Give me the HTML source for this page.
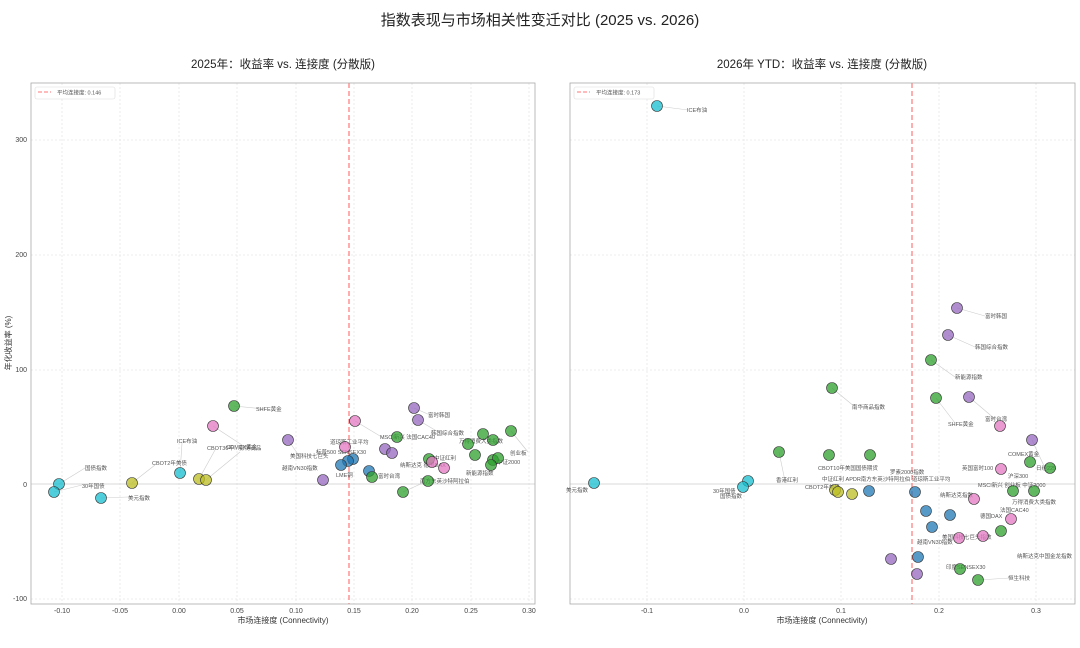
<!DOCTYPE html>
<html><head><meta charset="utf-8"><style>
body{margin:0;background:#fff}
svg{display:block;font-family:"Liberation Sans","Noto Sans CJK SC",sans-serif}
.g{stroke:#e6e6e6;stroke-width:0.8;stroke-dasharray:2 2}
.t{font-size:7px;fill:#444}
.lb{font-size:5.5px;fill:#555}
.c{stroke:#333;stroke-width:0.6;fill-opacity:0.75}
.cy{fill:#17becf}.ol{fill:#bcbd22}.gr{fill:#2ca02c}.pk{fill:#e377c2}.pu{fill:#9467bd}.bl{fill:#1f77b4}
.ln{stroke:#ccc;stroke-width:0.6;fill:none}
.bx{fill:#f6f6f6;stroke:#ddd;stroke-width:0.5}
</style></head><body>
<svg width="1080" height="648" viewBox="0 0 1080 648">
<text x="540" y="25" text-anchor="middle" font-size="15" fill="#222">指数表现与市场相关性变迁对比 (2025 vs. 2026)</text>
<text x="283" y="68" text-anchor="middle" font-size="11.5" fill="#222">2025年：收益率 vs. 连接度 (分散版)</text>
<text x="822" y="68" text-anchor="middle" font-size="11.5" fill="#222">2026年 YTD：收益率 vs. 连接度 (分散版)</text>

<!-- LEFT -->
<g>
<line class="g" x1="62" y1="83" x2="62" y2="604"/><line class="g" x1="120" y1="83" x2="120" y2="604"/><line class="g" x1="179" y1="83" x2="179" y2="604"/><line class="g" x1="237" y1="83" x2="237" y2="604"/><line class="g" x1="296" y1="83" x2="296" y2="604"/><line class="g" x1="354" y1="83" x2="354" y2="604"/><line class="g" x1="412" y1="83" x2="412" y2="604"/><line class="g" x1="471" y1="83" x2="471" y2="604"/><line class="g" x1="529" y1="83" x2="529" y2="604"/>
<line class="g" x1="31" y1="140" x2="535" y2="140"/><line class="g" x1="31" y1="255" x2="535" y2="255"/><line class="g" x1="31" y1="370" x2="535" y2="370"/><line class="g" x1="31" y1="599" x2="535" y2="599"/>
<line x1="31" y1="484" x2="535" y2="484" stroke="#ccc" stroke-width="0.8"/>
<line x1="349" y1="83" x2="349" y2="604" stroke="#f77" stroke-width="1.2" stroke-dasharray="5 3"/>
<rect x="31" y="83" width="504" height="521" fill="none" stroke="#aaa" stroke-width="0.8"/>
<g class="t" text-anchor="end"><text x="27" y="142">300</text><text x="27" y="257">200</text><text x="27" y="372">100</text><text x="27" y="487">0</text><text x="27" y="601">-100</text></g>
<g class="t" text-anchor="middle"><text x="62" y="613">-0.10</text><text x="120" y="613">-0.05</text><text x="179" y="613">0.00</text><text x="237" y="613">0.05</text><text x="296" y="613">0.10</text><text x="354" y="613">0.15</text><text x="412" y="613">0.20</text><text x="471" y="613">0.25</text><text x="529" y="613">0.30</text></g>
<text x="283" y="623" text-anchor="middle" font-size="8" fill="#333">市场连接度 (Connectivity)</text>
<text transform="translate(11,343) rotate(-90)" text-anchor="middle" font-size="8" fill="#333">年化收益率 (%)</text>
<rect x="35" y="87" width="80" height="12" fill="#fff" stroke="#ddd" stroke-width="0.6" rx="2"/>
<line x1="38" y1="92" x2="51" y2="92" stroke="#f77" stroke-dasharray="4 2"/><text x="57" y="94.5" class="lb">平均连接度: 0.146</text>
<g class="ln"><path d="M59 484L85 468"/><path d="M54 492L82 485"/><path d="M101 498L128 497"/><path d="M180 473L182 443"/><path d="M132 483L155 465"/><path d="M199 479L215 450"/><path d="M206 480L240 452"/><path d="M234 406L265 409"/><path d="M213 426L245 447"/><path d="M288 440L300 457"/><path d="M414 408L430 415"/><path d="M418 420L440 433"/><path d="M355 421L385 439"/><path d="M511 431L528 452"/><path d="M403 492L425 482"/></g>
<g class="lb">
<text x="85" y="470">国债指数</text><text x="82" y="488">30年国债</text><text x="128" y="500">美元指数</text><text x="177" y="443">ICE布油</text><text x="152" y="465">CBOT2年美债</text><text x="207" y="450">CBOT30年…彭博商品</text><text x="226" y="449">COMEX黄金</text><text x="256" y="411">SHFE黄金</text>
<text x="290" y="458">美国科技七巨头</text><text x="282" y="470">越南VN30指数</text><text x="336" y="477">LME铜</text><text x="330" y="444">道琼斯工业平均</text><text x="316" y="454">标普500 SENSEX30</text>
<text x="428" y="417">富时韩国</text><text x="431" y="435">韩国综合指数</text><text x="380" y="439">MSCI新兴 法国CAC40</text><text x="459" y="443">万得消费大类指数</text><text x="510" y="455">创业板</text><text x="497" y="464">中证2000</text><text x="434" y="460">中证红利</text><text x="400" y="467">纳斯达克 德国DAX</text><text x="466" y="475">新能源指数</text><text x="420" y="483">南方东英沙特阿拉伯</text><text x="378" y="478">富时台湾</text>
</g>
<circle class="c cy" cx="59" cy="484" r="5.5"/><circle class="c cy" cx="54" cy="492" r="5.5"/><circle class="c cy" cx="101" cy="498" r="5.5"/><circle class="c cy" cx="180" cy="473" r="5.5"/>
<circle class="c ol" cx="132" cy="483" r="5.5"/><circle class="c ol" cx="199" cy="479" r="5.5"/><circle class="c ol" cx="206" cy="480" r="5.5"/>
<circle class="c gr" cx="234" cy="406" r="5.5"/><circle class="c pk" cx="213" cy="426" r="5.5"/><circle class="c pk" cx="355" cy="421" r="5.5"/>
<circle class="c pu" cx="288" cy="440" r="5.5"/><circle class="c pu" cx="323" cy="480" r="5.5"/><circle class="c pu" cx="414" cy="408" r="5.5"/><circle class="c pu" cx="418" cy="420" r="5.5"/>
<circle class="c pk" cx="345" cy="447" r="5.5"/><circle class="c pu" cx="385" cy="449" r="5.5"/><circle class="c pu" cx="392" cy="453" r="5.5"/>
<circle class="c bl" cx="353" cy="459" r="5.5"/><circle class="c bl" cx="348" cy="461" r="5.5"/><circle class="c bl" cx="341" cy="465" r="5.5"/><circle class="c bl" cx="369" cy="471" r="5.5"/>
<circle class="c gr" cx="397" cy="437" r="5.5"/><circle class="c gr" cx="372" cy="477" r="5.5"/><circle class="c gr" cx="403" cy="492" r="5.5"/><circle class="c gr" cx="428" cy="481" r="5.5"/><circle class="c gr" cx="468" cy="444" r="5.5"/><circle class="c gr" cx="483" cy="434" r="5.5"/><circle class="c gr" cx="493" cy="440" r="5.5"/><circle class="c gr" cx="475" cy="455" r="5.5"/><circle class="c gr" cx="493" cy="460" r="5.5"/><circle class="c gr" cx="511" cy="431" r="5.5"/><circle class="c gr" cx="498" cy="458" r="5.5"/><circle class="c gr" cx="491" cy="465" r="5.5"/><circle class="c gr" cx="429" cy="459" r="5.5"/>
<circle class="c pk" cx="432" cy="462" r="5.5"/><circle class="c pk" cx="444" cy="468" r="5.5"/>
</g>

<!-- RIGHT -->
<g>
<line class="g" x1="647" y1="83" x2="647" y2="604"/><line class="g" x1="744" y1="83" x2="744" y2="604"/><line class="g" x1="841" y1="83" x2="841" y2="604"/><line class="g" x1="939" y1="83" x2="939" y2="604"/><line class="g" x1="1036" y1="83" x2="1036" y2="604"/>
<line class="g" x1="570" y1="140" x2="1075" y2="140"/><line class="g" x1="570" y1="255" x2="1075" y2="255"/><line class="g" x1="570" y1="370" x2="1075" y2="370"/><line class="g" x1="570" y1="599" x2="1075" y2="599"/>
<line x1="570" y1="484" x2="1075" y2="484" stroke="#ccc" stroke-width="0.8"/>
<line x1="912" y1="83" x2="912" y2="604" stroke="#f77" stroke-width="1.2" stroke-dasharray="5 3"/>
<rect x="570" y="83" width="505" height="521" fill="none" stroke="#aaa" stroke-width="0.8"/>
<g class="t" text-anchor="middle"><text x="647" y="613">-0.1</text><text x="744" y="613">0.0</text><text x="841" y="613">0.1</text><text x="939" y="613">0.2</text><text x="1036" y="613">0.3</text></g>
<text x="822" y="623" text-anchor="middle" font-size="8" fill="#333">市场连接度 (Connectivity)</text>
<rect x="574" y="87" width="80" height="12" fill="#fff" stroke="#ddd" stroke-width="0.6" rx="2"/>
<line x1="577" y1="92" x2="590" y2="92" stroke="#f77" stroke-dasharray="4 2"/><text x="596" y="94.5" class="lb">平均连接度: 0.173</text>
<g class="ln"><path d="M657 106L688 110"/><path d="M957 308L985 316"/><path d="M948 335L975 347"/><path d="M931 360L955 377"/><path d="M832 388L855 407"/><path d="M936 398L955 423"/><path d="M969 397L995 419"/><path d="M1032 440L1045 468"/><path d="M779 452L785 481"/><path d="M978 580L1010 578"/></g>
<g class="lb">
<text x="687" y="112">ICE布油</text><text x="985" y="318">富时韩国</text><text x="975" y="349">韩国综合指数</text><text x="955" y="379">新能源指数</text><text x="852" y="409">南华商品指数</text><text x="948" y="426">SHFE黄金</text><text x="985" y="421">富时台湾</text><text x="1008" y="456">COMEX黄金</text><text x="1036" y="470">日经225</text>
<text x="776" y="482">香港红利</text><text x="566" y="492">美元指数</text><text x="713" y="493">30年国债</text><text x="720" y="498">国债指数</text><text x="818" y="470">CBOT10年美国国债期货</text><text x="890" y="474">罗素2000指数</text><text x="822" y="481">中证红利 APDR南方东英沙特阿拉伯 道琼斯工业平均</text><text x="805" y="489">CBOT2年美债</text><text x="962" y="470">英国富时100</text><text x="1008" y="478">沪深300</text><text x="978" y="487">MSCI新兴 创业板 中证2000</text><text x="940" y="497">纳斯达克指数</text><text x="1012" y="504">万得消费大类指数</text><text x="1000" y="512">法国CAC40</text><text x="980" y="518">德国DAX</text><text x="942" y="539">美国科技七巨头指数</text><text x="917" y="544">越南VN30指数</text><text x="1017" y="558">纳斯达克中国金龙指数</text><text x="946" y="569">印度SENSEX30</text><text x="1008" y="580">恒生科技</text>
</g>
<circle class="c cy" cx="657" cy="106" r="5.5"/><circle class="c cy" cx="594" cy="483" r="5.5"/><circle class="c cy" cx="748" cy="481" r="5.5"/><circle class="c cy" cx="743" cy="487" r="5.5"/>
<circle class="c pu" cx="957" cy="308" r="5.5"/><circle class="c pu" cx="948" cy="335" r="5.5"/><circle class="c pu" cx="969" cy="397" r="5.5"/><circle class="c pu" cx="1032" cy="440" r="5.5"/><circle class="c pu" cx="891" cy="559" r="5.5"/><circle class="c pu" cx="917" cy="574" r="5.5"/>
<circle class="c gr" cx="931" cy="360" r="5.5"/><circle class="c gr" cx="832" cy="388" r="5.5"/><circle class="c gr" cx="936" cy="398" r="5.5"/><circle class="c gr" cx="779" cy="452" r="5.5"/><circle class="c gr" cx="829" cy="455" r="5.5"/><circle class="c gr" cx="870" cy="455" r="5.5"/><circle class="c gr" cx="1030" cy="462" r="5.5"/><circle class="c gr" cx="1050" cy="468" r="5.5"/><circle class="c gr" cx="1013" cy="491" r="5.5"/><circle class="c gr" cx="1034" cy="491" r="5.5"/><circle class="c gr" cx="1001" cy="531" r="5.5"/><circle class="c gr" cx="960" cy="569" r="5.5"/><circle class="c gr" cx="978" cy="580" r="5.5"/>
<circle class="c pk" cx="1000" cy="426" r="5.5"/><circle class="c pk" cx="1001" cy="469" r="5.5"/><circle class="c pk" cx="974" cy="499" r="5.5"/><circle class="c pk" cx="1011" cy="519" r="5.5"/><circle class="c pk" cx="983" cy="536" r="5.5"/><circle class="c pk" cx="959" cy="538" r="5.5"/>
<circle class="c ol" cx="835" cy="490" r="5.5"/><circle class="c ol" cx="838" cy="492" r="5.5"/><circle class="c ol" cx="852" cy="494" r="5.5"/>
<circle class="c bl" cx="869" cy="491" r="5.5"/><circle class="c bl" cx="915" cy="492" r="5.5"/><circle class="c bl" cx="926" cy="511" r="5.5"/><circle class="c bl" cx="950" cy="515" r="5.5"/><circle class="c bl" cx="932" cy="527" r="5.5"/><circle class="c bl" cx="918" cy="557" r="5.5"/>
</g>
</svg>
</body></html>
